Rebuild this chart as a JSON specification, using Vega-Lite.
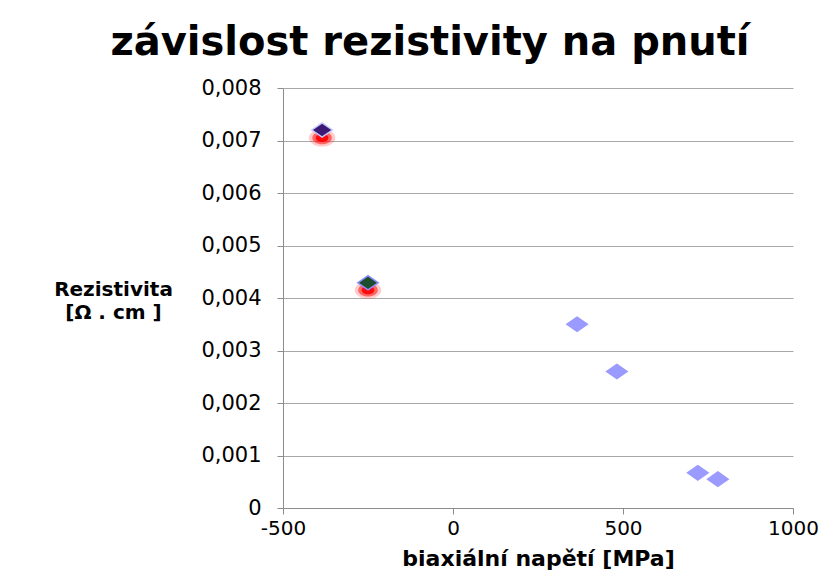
{
  "$schema": "https://vega.github.io/schema/vega-lite/v6.json",
  "width": 510,
  "height": 420,
  "autosize": {"type": "none"},
  "padding": {"left": 283, "top": 88, "right": 45, "bottom": 76},
  "background": "white",
  "config": {
    "view": {"stroke": null},
    "font": "DejaVu Sans"
  },
  "title": {
    "text": "závislost rezistivity na pnutí",
    "fontSize": 40,
    "fontWeight": "bold",
    "font": "DejaVu Sans",
    "color": "#000000",
    "anchor": "middle",
    "baseline": "alphabetic",
    "dx": -108,
    "dy": 49,
    "offset": 31
  },
  "data": {
    "values": [
      {"napeti": -385, "rez": 0.00705, "serie": "R"},
      {"napeti": -250, "rez": 0.00415, "serie": "R"},
      {"napeti": -385, "rez": 0.0072, "serie": "A"},
      {"napeti": -250, "rez": 0.00429, "serie": "B"},
      {"napeti": 365, "rez": 0.0035, "serie": "C"},
      {"napeti": 482, "rez": 0.0026, "serie": "C"},
      {"napeti": 720, "rez": 0.00067, "serie": "C"},
      {"napeti": 779, "rez": 0.00055, "serie": "C"}
    ]
  },
  "encoding": {
    "x": {
      "field": "napeti",
      "type": "quantitative",
      "scale": {"domain": [-500, 1000], "nice": false, "zero": false},
      "axis": {
        "values": [-500, 0, 500, 1000],
        "labelExpr": "'' + datum.value",
        "title": "biaxiální napětí [MPa]",
        "titleFontSize": 22,
        "titleFontWeight": "bold",
        "titleColor": "#000000",
        "titlePadding": 10,
        "titleFont": "DejaVu Sans",
        "labelFontSize": 20,
        "labelColor": "#000000",
        "labelPadding": 4,
        "labelFont": "DejaVu Sans",
        "tickSize": 6,
        "tickColor": "#8c8c8c",
        "domainColor": "#8c8c8c",
        "grid": false,
        "labelFlush": false
      }
    },
    "y": {
      "field": "rez",
      "type": "quantitative",
      "scale": {"domain": [0, 0.008], "nice": false},
      "axis": {
        "values": [0, 0.001, 0.002, 0.003, 0.004, 0.005, 0.006, 0.007, 0.008],
        "labelExpr": "datum.value == 0 ? '0' : replace(format(datum.value, '.3f'), '.', ',')",
        "title": ["Rezistivita", "[Ω . cm ]"],
        "titleAngle": 0,
        "titleAlign": "center",
        "titleBaseline": "alphabetic",
        "titleX": -170,
        "titleY": 207,
        "titleFontSize": 20,
        "titleLineHeight": 23,
        "titleFontWeight": "bold",
        "titleColor": "#000000",
        "titleFont": "DejaVu Sans",
        "labelFontSize": 21,
        "labelColor": "#000000",
        "labelFont": "DejaVu Sans",
        "labelPadding": 16,
        "tickSize": 6,
        "tickColor": "#8c8c8c",
        "domainColor": "#8c8c8c",
        "grid": true,
        "gridColor": "#a8a8a8",
        "gridWidth": 1.2,
        "labelFlush": false
      }
    }
  },
  "layer": [
    {
      "transform": [{"filter": "datum.serie == 'R'"}],
      "mark": {"type": "point", "shape": "M-1,0A1,0.65 0 1,0 1,0A1,0.65 0 1,0 -1,0Z", "filled": true, "size": 700, "color": "#ff3030", "opacity": 0.25}
    },
    {
      "transform": [{"filter": "datum.serie == 'R'"}],
      "mark": {"type": "point", "shape": "M-1,0A1,0.65 0 1,0 1,0A1,0.65 0 1,0 -1,0Z", "filled": true, "size": 380, "color": "#ff2020", "opacity": 0.6}
    },
    {
      "transform": [{"filter": "datum.serie == 'R'"}],
      "mark": {"type": "point", "shape": "M-1,0A1,0.65 0 1,0 1,0A1,0.65 0 1,0 -1,0Z", "filled": true, "size": 160, "color": "#ff0000", "opacity": 0.9}
    },
    {
      "transform": [{"filter": "datum.serie != 'R'"}],
      "mark": {
        "type": "point",
        "shape": "M0,-0.7L1,0L0,0.7L-1,0Z",
        "filled": true,
        "size": 420,
        "opacity": 1,
        "strokeWidth": 1.5
      },
      "encoding": {
        "color": {
          "field": "serie",
          "type": "nominal",
          "scale": {"domain": ["A", "B", "C"], "range": ["#3a1a72", "#1e4d2e", "#9a9aff"]},
          "legend": null
        },
        "stroke": {
          "field": "serie",
          "type": "nominal",
          "scale": {"domain": ["A", "B", "C"], "range": ["#c8c8ff", "#8f8fff", "#9a9aff"]},
          "legend": null
        }
      }
    }
  ]
}
